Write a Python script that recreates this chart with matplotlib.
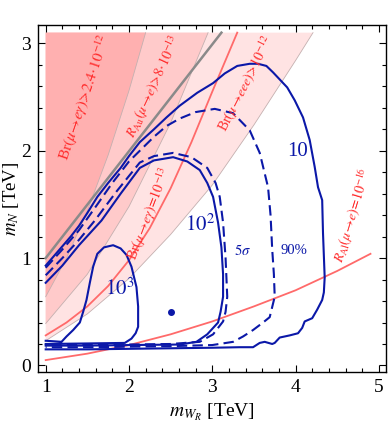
import matplotlib
matplotlib.use("Agg")
import matplotlib.pyplot as plt
from matplotlib.ticker import MultipleLocator

plt.rcParams['font.family'] = ['Liberation Serif', 'DejaVu Serif']
plt.rcParams['mathtext.fontset'] = 'stix'

# ---------------- data ----------------
# shaded exclusion bands: lower boundary m_N vs m_WR, top at 3.1 TeV
band_top = 3.1
dark_x = [1.0, 1.25, 1.5, 1.75, 2.0, 2.2]
dark_y = [0.64, 1.0, 1.44, 1.96, 2.56, 3.1]
med_x = [1.0, 1.5, 2.0, 2.5, 2.95]
med_y = [0.39, 0.85, 1.48, 2.26, 3.1]
light_x = [1.0, 1.5, 2.0, 2.5, 3.0, 3.5, 4.0, 4.21]
light_y = [0.23, 0.48, 0.81, 1.22, 1.68, 2.24, 2.84, 3.1]

# red iso-lines
meg_x = [1.0, 1.25, 1.5, 1.75, 2.0, 2.25, 2.5, 2.75, 3.0, 3.3]
meg_y = [0.28, 0.40, 0.55, 0.74, 0.98, 1.28, 1.65, 2.08, 2.55, 3.1]
ral_x = [1.0, 1.5, 2.0, 2.5, 3.0, 3.5, 4.0, 4.5, 4.9]
ral_y = [0.05, 0.11, 0.19, 0.29, 0.41, 0.55, 0.70, 0.88, 1.04]

# kinematic line m_N = m_WR
gray_x = [1.0, 3.11]
gray_y = [1.0, 3.1]

# contour "10" (solid)
c10_x = [1.0, 1.1, 1.2, 1.3, 1.4, 1.5, 1.62, 1.75, 1.9, 2.0, 2.13, 2.3, 2.45, 2.61,
         2.82, 3.01, 3.15, 3.3, 3.45, 3.55, 3.65, 3.73, 3.9, 3.99, 4.09, 4.17, 4.23,
         4.27, 4.32, 4.33, 4.35, 4.34, 4.32, 4.26, 4.2, 4.11, 4.08, 4.03, 3.93, 3.81,
         3.75, 3.72, 3.63, 3.57, 3.49, 3.33, 3.0, 2.5, 2.0, 1.5, 1.0]
c10_y = [0.93, 1.02, 1.11, 1.2, 1.3, 1.42, 1.57, 1.70, 1.84, 1.95, 2.08, 2.2, 2.31, 2.42,
         2.54, 2.63, 2.72, 2.79, 2.81, 2.81, 2.79, 2.73, 2.59, 2.47, 2.31, 2.10, 1.85,
         1.66, 1.54, 1.23, 0.82, 0.68, 0.61, 0.52, 0.44, 0.41, 0.35, 0.30, 0.28, 0.26,
         0.21, 0.20, 0.22, 0.21, 0.17, 0.17, 0.165, 0.16, 0.155, 0.15, 0.15]

# contour "90%" (dashed)
c90_x = [1.0, 1.2, 1.4, 1.62, 1.8, 2.0, 2.13, 2.3, 2.45, 2.61, 2.8, 3.03, 3.25, 3.45,
         3.57, 3.67, 3.70, 3.72, 3.74, 3.75, 3.69, 3.61, 3.49, 3.37, 3.25, 3.0, 2.5,
         2.0, 1.5, 1.0]
c90_y = [0.91, 1.08, 1.26, 1.50, 1.70, 1.90, 2.0, 2.13, 2.23, 2.30, 2.36, 2.39, 2.35, 2.19,
         1.98, 1.66, 1.40, 1.08, 0.85, 0.64, 0.45, 0.40, 0.33, 0.27, 0.22, 0.19, 0.18,
         0.175, 0.17, 0.17]

# contour "10^2" (solid)
c100_x = [1.0, 1.2, 1.4, 1.67, 1.9, 2.13, 2.3, 2.53, 2.7, 2.85, 2.94, 3.01, 3.07, 3.11,
          3.13, 3.13, 3.1, 3.07, 2.94, 2.81, 2.61, 2.0, 1.5, 1.0]
c100_y = [0.77, 0.93, 1.12, 1.35, 1.6, 1.84, 1.91, 1.94, 1.9, 1.82, 1.7, 1.57, 1.33, 1.1,
          0.85, 0.64, 0.5, 0.40, 0.29, 0.22, 0.195, 0.19, 0.185, 0.185]

# contour "5 sigma" (dashed)
c5s_x = [1.0, 1.2, 1.4, 1.59, 1.85, 2.13, 2.3, 2.53, 2.75, 2.94, 3.04, 3.09, 3.13, 3.16,
         3.18, 3.16, 3.13, 3.01, 2.85, 2.5, 2.0, 1.5, 1.0]
c5s_y = [0.84, 1.0, 1.17, 1.35, 1.62, 1.89, 1.95, 1.98, 1.94, 1.84, 1.7, 1.57, 1.33, 1.0,
         0.64, 0.5, 0.41, 0.29, 0.22, 0.2, 0.195, 0.19, 0.19]

# contour "10^3" (solid)
c1000_x = [1.0, 1.1, 1.19, 1.25, 1.33, 1.41, 1.45, 1.49, 1.53, 1.57, 1.62, 1.7, 1.81,
           1.9, 1.97, 2.03, 2.09, 2.11, 2.11, 2.08, 2.03, 1.95, 1.5, 1.0]
c1000_y = [0.23, 0.225, 0.22, 0.27, 0.33, 0.40, 0.50, 0.61, 0.77, 0.92, 1.04, 1.1, 1.12,
           1.09, 1.03, 0.92, 0.73, 0.55, 0.36, 0.30, 0.25, 0.21, 0.205, 0.2]

bench_x = [2.5]
bench_y = [0.5]

xticks = [1, 2, 3, 4, 5]
yticks = [0, 1, 2, 3]

# ---------------- figure ----------------
fig = plt.figure(figsize=(3.88, 4.26), dpi=100)
ax = fig.add_axes([0.098, 0.127, 0.897, 0.814])

blue = '#0b18a8'
red_line = '#ff6a6a'
red_text = '#ff2a2a'
edge = '#c4b0b0'


def band(xs, ys, color):
    px = [xs[0]] + list(xs) + [xs[0]]
    py = [band_top] + list(ys) + [band_top]
    ax.fill(px, py, color=color, lw=0, zorder=1)
    ax.plot(xs, ys, color=edge, lw=0.6, zorder=1.5)


band(light_x, light_y, '#ffe3e3')
band(med_x, med_y, '#ffcaca')
band(dark_x, dark_y, '#ffb0b0')

ax.plot(meg_x, meg_y, color=red_line, lw=1.3, zorder=2)
ax.plot(ral_x, ral_y, color=red_line, lw=1.3, zorder=2)
ax.plot(gray_x, gray_y, color='#8a8a8a', lw=1.8, zorder=2)

ax.plot(c10_x, c10_y, color=blue, lw=1.5, zorder=3)
ax.plot(c90_x, c90_y, color=blue, lw=1.5, ls=(0, (5, 2.5)), zorder=3)
ax.plot(c100_x, c100_y, color=blue, lw=1.5, zorder=3)
ax.plot(c5s_x, c5s_y, color=blue, lw=1.5, ls=(0, (5, 2.5)), zorder=3)
ax.plot(c1000_x, c1000_y, color=blue, lw=1.5, zorder=3)
ax.plot(bench_x, bench_y, 'o', color=blue, ms=4, zorder=4)

# contour labels
ax.text(4.03, 1.99, '10', color=blue, fontsize=15, ha='center', va='center', zorder=5)
ax.text(2.85, 1.31, '$10^2$', color=blue, fontsize=15, ha='center', va='center', zorder=5)
ax.text(1.89, 0.71, '$10^3$', color=blue, fontsize=15, ha='center', va='center', zorder=5)
ax.text(3.36, 1.07, r'$5\sigma$', color=blue, fontsize=10.5, ha='center', va='center', zorder=5)
ax.text(3.98, 1.07, '90%', color=blue, fontsize=10.5, ha='center', va='center', zorder=5)

# red labels
kw = dict(color=red_text, ha='center', va='center', rotation_mode='anchor', zorder=5)
ax.text(1.47, 2.50, r'Br$(\mu\!\rightarrow\! e\gamma)\!>\!2.4\!\cdot\!10^{-12}$', rotation=71,
        fontsize=11, **kw)
ax.text(2.30, 2.60, r'$R_{\rm Au}(\mu\!\rightarrow\! e)\!>\!8\!\cdot\!10^{-13}$', rotation=65,
        fontsize=10, **kw)
ax.text(3.41, 2.62, r'Br$(\mu\!\rightarrow\! eee)\!>\!10^{-12}$', rotation=63,
        fontsize=10, **kw)
ax.text(2.25, 1.41, r'Br$(\mu\!\rightarrow\! e\gamma)\!=\!10^{-13}$', rotation=69,
        fontsize=10, **kw)
ax.text(4.69, 1.40, r'$R_{\rm Al}(\mu\!\rightarrow\! e)\!=\!10^{-16}$', rotation=73,
        fontsize=10, **kw)

ax.set_xlim(0.908, 5.087)
ax.set_ylim(-0.06, 3.17)
ax.set_xticks(xticks)
ax.set_yticks(yticks)
ax.xaxis.set_minor_locator(MultipleLocator(0.2))
ax.yaxis.set_minor_locator(MultipleLocator(0.2))
ax.tick_params(which='both', direction='in', top=True, right=True, width=0.8)
ax.tick_params(which='major', length=5, labelsize=14, pad=5)
ax.tick_params(which='minor', length=3)
for s in ax.spines.values():
    s.set_linewidth(1.0)

ax.set_xlabel(r'$m_{W_R}$ [TeV]', fontsize=14, labelpad=4)
ax.set_ylabel(r'$m_N$ [TeV]', fontsize=13.5)
ax.yaxis.set_label_coords(-0.05, 0.5)

fig.savefig('out.png', dpi=100)
